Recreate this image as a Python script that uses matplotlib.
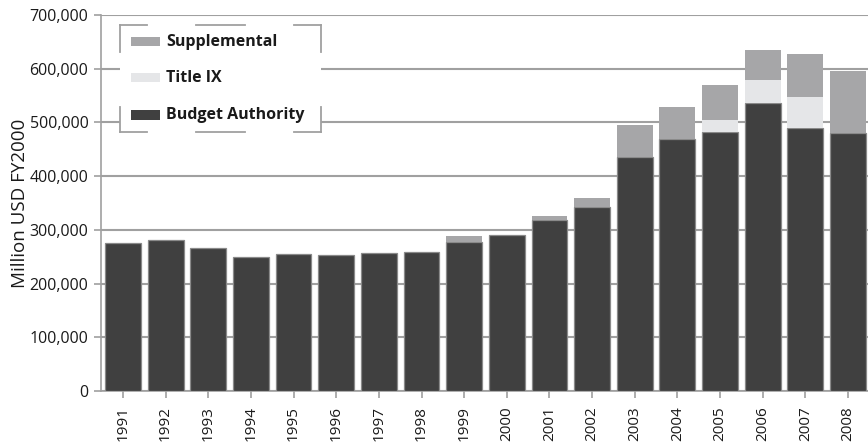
import matplotlib
matplotlib.use('Agg')
import matplotlib.pyplot as plt
from matplotlib.lines import Line2D
from matplotlib.patches import Rectangle
from matplotlib.ticker import FuncFormatter

years = [str(y) for y in range(1991, 2009)]
budget_authority = [275000, 281000, 266000, 250000, 255000, 253000, 257000, 259000, 278000,
                    290000, 318000, 343000, 436000, 469000, 483000, 536000, 490000, 480000]
title_ix = [0, 0, 0, 0, 0, 0, 0, 0, 0,
            0, 0, 0, 0, 0, 22000, 43000, 57000, 0]
supplemental = [0, 0, 0, 0, 0, 0, 0, 0, 10000,
                0, 8000, 16000, 59000, 60000, 65000, 56000, 80000, 116000]

c_ba = '#404040'
c_t9 = '#e5e6e8'
c_sup = '#a6a6a8'
c_line = '#a0a0a0'

plt.rcParams['font.family'] = ['Open Sans', 'DejaVu Sans']

fig = plt.figure(figsize=(8.68, 4.44), dpi=100)
ax = fig.add_axes([101 / 868, 53 / 444, 1 - 101 / 868, 376 / 444])

x = list(range(len(years)))
w = 0.84
t9_bottom = budget_authority
sup_bottom = [a + b for a, b in zip(budget_authority, title_ix)]

ax.bar(x, budget_authority, w, color=c_ba, edgecolor='#8a8a8a', linewidth=0.9, zorder=3)
ax.bar(x, title_ix, w, bottom=t9_bottom, color=c_t9, linewidth=0, zorder=3)
ax.bar(x, supplemental, w, bottom=sup_bottom, color=c_sup, linewidth=0, zorder=3)

ax.set_xlim(-0.516, 17.47)
ax.set_ylim(0, 700000)
ax.set_yticks(range(0, 700001, 100000))
ax.yaxis.set_major_formatter(FuncFormatter(lambda v, p: f'{int(v):,}'))
ax.set_xticks(x)
ax.set_xticklabels(years, rotation=90)
ax.yaxis.grid(True, color=c_line, linewidth=1.5, zorder=0)
ax.set_axisbelow(True)
for s in ['top', 'right']:
    ax.spines[s].set_visible(False)
for s in ['left', 'bottom']:
    ax.spines[s].set_color(c_line)
    ax.spines[s].set_linewidth(1.2)
ax.tick_params(axis='both', colors=c_line, length=5, width=1.2, labelcolor='#1a1a1a')
ax.tick_params(axis='x', labelsize=11, pad=6)
ax.tick_params(axis='y', labelsize=11.5, pad=4)
ax.set_ylabel('Million USD FY2000', fontsize=13.5, color='#1a1a1a')
ax.yaxis.set_label_coords(-0.094, 0.5)

# legend box, drawn by hand (pixel coords from top-left)
def fx(px):
    return px / 868
def fy(py):
    return 1 - py / 444

fig.patches.append(Rectangle((fx(120), fy(133)), fx(321) - fx(120), fy(25) - fy(133),
                             transform=fig.transFigure, facecolor='white',
                             edgecolor='none', zorder=5))
segs = [((120, 25.5), (147, 25.5)), ((196, 25.5), (245, 25.5)), ((294, 25.5), (321, 25.5)),
        ((120, 132.5), (147, 132.5)), ((196, 132.5), (245, 132.5)), ((294, 132.5), (321, 132.5)),
        ((120, 25.5), (120, 52)), ((120, 107), (120, 132.5)),
        ((320.5, 25.5), (320.5, 52)), ((320.5, 107), (320.5, 132.5))]
for (x0, y0), (x1, y1) in segs:
    fig.lines.append(Line2D([fx(x0), fx(x1)], [fy(y0), fy(y1)], transform=fig.transFigure,
                            color=c_line, linewidth=1.3, zorder=6))

labels = ['Supplemental', 'Title IX', 'Budget Authority']
colors = [c_sup, c_t9, c_ba]
for i, (lab, col) in enumerate(zip(labels, colors)):
    yc = [42, 78, 115][i]
    fig.patches.append(Rectangle((fx(131), fy(yc + 4.5)), fx(160) - fx(131), fy(yc - 4.5) - fy(yc + 4.5),
                                 transform=fig.transFigure, facecolor=col, edgecolor='none', zorder=6))
    fig.text(fx(166), fy(yc), lab, fontsize=11.5, fontweight='bold', color='#1a1a1a',
             va='center', ha='left', zorder=7)

fig.savefig('out.png', dpi=100)
